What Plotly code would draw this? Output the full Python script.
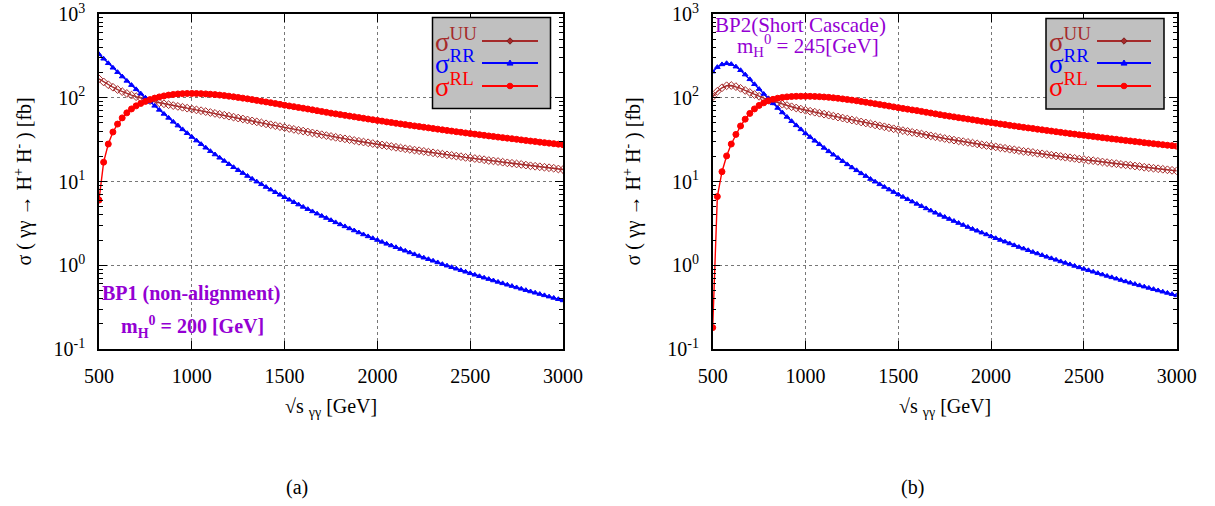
import plotly.graph_objects as go

# ---------------- data ----------------
sqrt_s = [500, 525, 550, 575, 600, 625, 650, 675, 700, 725, 750, 775, 800, 825, 850, 875, 900, 925, 950, 975,
          1000, 1025, 1050, 1075, 1100, 1125, 1150, 1175, 1200, 1225, 1250, 1275, 1300, 1325, 1350, 1375, 1400, 1425, 1450, 1475,
          1500, 1525, 1550, 1575, 1600, 1625, 1650, 1675, 1700, 1725, 1750, 1775, 1800, 1825, 1850, 1875, 1900, 1925, 1950, 1975,
          2000, 2025, 2050, 2075, 2100, 2125, 2150, 2175, 2200, 2225, 2250, 2275, 2300, 2325, 2350, 2375, 2400, 2425, 2450, 2475,
          2500, 2525, 2550, 2575, 2600, 2625, 2650, 2675, 2700, 2725, 2750, 2775, 2800, 2825, 2850, 2875, 2900, 2925, 2950, 2975,
          3000]

bp1_uu = [168, 154.5, 143, 133.5, 125.3, 118.3, 112.5, 107.5, 103, 98.8, 95.3, 92.2, 89.5, 87.0, 84.7, 82.6, 80.6, 78.8, 77.0, 75.1,
          73.3, 71.6, 70.0, 68.3, 66.6, 65.0, 63.4, 61.9, 60.3, 58.7, 57.2, 55.8, 54.3, 52.9, 51.5, 50.1, 48.8, 47.6, 46.4, 45.2,
          44.0, 42.9, 41.9, 40.9, 40.0, 39.0, 38.0, 37.1, 36.2, 35.3, 34.5, 33.7, 33.0, 32.3, 31.6, 30.9, 30.2, 29.6, 29.0, 28.4,
          27.8, 27.3, 26.7, 26.2, 25.6, 25.1, 24.6, 24.2, 23.7, 23.3, 22.9, 22.4, 22.0, 21.6, 21.2, 20.8, 20.5, 20.1, 19.8, 19.4,
          19.1, 18.8, 18.5, 18.2, 17.8, 17.6, 17.3, 17.0, 16.7, 16.5, 16.2, 16.0, 15.7, 15.4, 15.2, 15.0, 14.8, 14.6, 14.4, 14.1,
          13.9]
bp1_rr = [330, 292, 258, 228, 202, 179, 159, 141.5, 126, 112, 100, 89.4, 80.0, 71.6, 64.1, 57.5, 51.6, 46.5, 41.9, 37.7,
          34.0, 30.8, 27.9, 25.3, 23.0, 21.0, 19.2, 17.6, 16.1, 14.8, 13.65, 12.6, 11.63, 10.76, 9.96, 9.25, 8.59, 7.99, 7.44, 6.94,
          6.48, 6.06, 5.66, 5.30, 4.97, 4.67, 4.39, 4.13, 3.88, 3.66, 3.45, 3.25, 3.07, 2.91, 2.75, 2.60, 2.46, 2.33, 2.21, 2.10,
          2.00, 1.90, 1.80, 1.72, 1.64, 1.56, 1.49, 1.42, 1.35, 1.29, 1.23, 1.18, 1.13, 1.08, 1.03, 0.988, 0.947, 0.908, 0.871, 0.835,
          0.801, 0.769, 0.739, 0.710, 0.683, 0.657, 0.632, 0.608, 0.585, 0.564, 0.543, 0.523, 0.504, 0.486, 0.469, 0.453, 0.437, 0.422, 0.407, 0.393,
          0.380]
bp1_rl = [6, 17, 28, 39, 48.5, 57.5, 66, 73.5, 80, 85.5, 90.5, 95, 99, 102.3, 105.2, 107.6, 109.5, 111, 112, 112.5,
          112.6, 112.4, 112.0, 111.2, 110.2, 109.0, 107.6, 106.1, 104.4, 102.6, 100.8, 98.9, 97.0, 95.0, 93.0, 91.0, 89.1, 87.2, 85.3, 83.4,
          81.5, 79.8, 78.2, 76.5, 75.0, 73.4, 71.7, 70.1, 68.5, 67.0, 65.5, 64.2, 62.9, 61.6, 60.4, 59.2, 58.0, 56.9, 55.7, 54.6,
          53.6, 52.6, 51.5, 50.6, 49.6, 48.7, 47.8, 46.9, 46.1, 45.3, 44.5, 43.7, 42.9, 42.2, 41.4, 40.7, 40.0, 39.3, 38.7, 38.0,
          37.4, 36.8, 36.2, 35.6, 35.0, 34.5, 33.9, 33.4, 32.9, 32.4, 31.9, 31.4, 30.9, 30.4, 30.0, 29.5, 29.1, 28.7, 28.3, 27.9,
          27.5]

bp2_uu = [102.6, 119.3, 131.6, 139.1, 140.0, 135.8, 129.5, 122.3, 115.5, 109.3, 104.0, 99.0, 94.8, 90.8, 87.1, 83.8, 80.7, 78.0, 75.4, 73.1,
          70.9, 69.0, 67.2, 65.4, 63.7, 62.0, 60.4, 58.8, 57.2, 55.7, 54.2, 52.8, 51.4, 50.0, 48.7, 47.4, 46.1, 45.0, 43.8, 42.6,
          41.5, 40.5, 39.6, 38.6, 37.8, 36.9, 35.9, 35.1, 34.2, 33.4, 32.6, 31.9, 31.2, 30.5, 29.9, 29.3, 28.7, 28.1, 27.4, 26.9,
          26.4, 25.9, 25.3, 24.9, 24.3, 23.9, 23.4, 22.9, 22.6, 22.2, 21.7, 21.4, 21.0, 20.6, 20.2, 19.9, 19.5, 19.2, 18.9, 18.5,
          18.3, 17.9, 17.7, 17.4, 17.1, 16.8, 16.5, 16.3, 16.0, 15.8, 15.6, 15.3, 15.1, 14.8, 14.6, 14.4, 14.2, 14.0, 13.8, 13.6,
          13.4]
bp2_rr = [205, 232, 250, 258, 252, 235, 213, 189, 166, 145, 127, 111, 97.5, 85.7, 75.5, 66.7, 59.0, 52.5, 46.8, 41.9,
          37.5, 33.9, 30.6, 27.8, 25.2, 22.9, 20.9, 19.1, 17.5, 16.0, 14.7, 13.6, 12.5, 11.6, 10.7, 9.94, 9.24, 8.60, 8.01, 7.48,
          6.99, 6.55, 6.13, 5.75, 5.40, 5.08, 4.77, 4.49, 4.23, 3.99, 3.77, 3.56, 3.37, 3.19, 3.02, 2.86, 2.71, 2.58, 2.45, 2.33,
          2.21, 2.10, 2.00, 1.91, 1.82, 1.73, 1.65, 1.58, 1.51, 1.44, 1.38, 1.32, 1.26, 1.21, 1.16, 1.11, 1.066, 1.023, 0.981, 0.942,
          0.905, 0.870, 0.836, 0.804, 0.774, 0.745, 0.717, 0.691, 0.665, 0.641, 0.618, 0.596, 0.575, 0.555, 0.536, 0.518, 0.500, 0.483, 0.467, 0.452,
          0.437]
bp2_rl = [0.18, 6.6, 13.1, 20.2, 28.0, 36.5, 46.0, 55.5, 65.0, 73.5, 81.0, 87.0, 92.0, 95.8, 98.7, 100.9, 102.4, 103.4, 104.0, 104.2,
          104.2, 104.0, 103.7, 103.0, 102.1, 101.1, 99.8, 98.5, 96.9, 95.3, 93.7, 92.0, 90.2, 88.4, 86.6, 84.8, 83.0, 81.3, 79.6, 77.8,
          76.1, 74.5, 73.1, 71.5, 70.2, 68.7, 67.1, 65.7, 64.2, 62.8, 61.4, 60.3, 59.1, 57.9, 56.8, 55.7, 54.6, 53.6, 52.4, 51.4,
          50.5, 49.6, 48.6, 47.8, 46.8, 46.0, 45.2, 44.3, 43.6, 42.9, 42.1, 41.4, 40.7, 40.0, 39.3, 38.6, 38.0, 37.3, 36.8, 36.1,
          35.6, 35.0, 34.5, 33.9, 33.4, 32.9, 32.3, 31.9, 31.4, 30.9, 30.5, 30.0, 29.6, 29.1, 28.7, 28.3, 27.9, 27.5, 27.1, 26.8,
          26.4]

x_tick_vals = [500, 1000, 1500, 2000, 2500, 3000]
y_tick_vals = [0.1, 1, 10, 100, 1000]
y_tick_text = ["10<sup>-1</sup>", "10<sup>0</sup>", "10<sup>1</sup>", "10<sup>2</sup>", "10<sup>3</sup>"]
series_labels = ["σ<sup>UU</sup>", "σ<sup>RR</sup>", "σ<sup>RL</sup>"]
captions = ["(a)", "(b)"]

# ---------------- styling / layout helpers ----------------
W, H = 1215, 506
FONT = "Liberation Serif"
BROWN, BLUE, RED, VIOLET = "#a52a2a", "#0000ff", "#ff0000", "#9400d3"
colors = [BROWN, BLUE, RED]
symbols = ["diamond-open", "triangle-up", "circle"]
msizes = [6, 5, 6]


def px(x):
    return x / W


def py(y):
    return 1 - y / H


panels = [
    dict(x0=99, x1=563, data=[bp1_uu, bp1_rr, bp1_rl], ytitle_x=23,
         leg=(432.5, 550.5, 17.5, 108.5, 482, 538, 510, 433), cap_x=297),
    dict(x0=712.7, x1=1176.7, data=[bp2_uu, bp2_rr, bp2_rl], ytitle_x=632,
         leg=(1046, 1164, 18.5, 109, 1097, 1151, 1124, 1047), cap_x=912),
]
TOP, BOT = 14, 349

fig = go.Figure()
layout = dict(width=W, height=H, margin=dict(l=0, r=0, t=0, b=0, autoexpand=False),
              paper_bgcolor="white", plot_bgcolor="white", showlegend=False)
annotations = []
shapes = []


def ann(x, y, text, size, color="black", xanchor="center", yanchor="middle", angle=0):
    annotations.append(dict(x=px(x), y=py(y), xref="paper", yref="paper", text=text, showarrow=False,
                            xanchor=xanchor, yanchor=yanchor, textangle=angle,
                            font=dict(family=FONT, size=size, color=color)))


for i, p in enumerate(panels):
    ax = "" if i == 0 else str(i + 1)
    for k in range(3):
        fig.add_trace(go.Scatter(
            x=sqrt_s, y=p["data"][k], mode="lines+markers",
            line=dict(color=colors[k], width=1.4),
            marker=dict(symbol=symbols[k], size=msizes[k], color=colors[k], line=dict(color=colors[k], width=1)),
            xaxis="x" + ax, yaxis="y" + ax, name=series_labels[k]))
    layout["xaxis" + ax] = dict(
        domain=[px(p["x0"]), px(p["x1"])], anchor="y" + ax, range=[500, 3000], automargin=False,
        tickmode="array", tickvals=x_tick_vals, ticktext=[str(v) for v in x_tick_vals],
        ticks="inside", ticklen=8, tickwidth=1, tickcolor="black", mirror="allticks",
        showline=True, linecolor="black", linewidth=1.5,
        showgrid=True, gridcolor="#777777", griddash="dot", gridwidth=1, zeroline=False,
        tickfont=dict(family=FONT, size=20, color="black"), ticklabelstandoff=8)
    layout["yaxis" + ax] = dict(
        domain=[py(BOT), py(TOP)], anchor="x" + ax, type="log", range=[-1, 3], automargin=False,
        tickmode="array", tickvals=y_tick_vals, ticktext=y_tick_text,
        ticks="inside", ticklen=8, tickwidth=1, tickcolor="black", mirror="allticks",
        showline=True, linecolor="black", linewidth=1.5,
        showgrid=True, gridcolor="#777777", griddash="dot", gridwidth=1, zeroline=False,
        minor=dict(ticks="inside", ticklen=4, tickcolor="black", dtick="D1", showgrid=False),
        tickfont=dict(family=FONT, size=20, color="black"), ticklabelstandoff=8)

    cx = (p["x0"] + p["x1"]) / 2
    ann(p["ytitle_x"], (TOP + BOT) / 2, "σ ( γγ → H<sup>+</sup> H<sup>-</sup> ) [fb]", 20, angle=-90)
    ann(cx, 407, "√s <sub>γγ</sub> [GeV]", 20)
    ann(p["cap_x"], 487, captions[i], 20)

    # legend box
    bx0, bx1, by0, by1, lx0, lx1, mx, tx = p["leg"]
    shapes.append(dict(type="rect", xref="paper", yref="paper", x0=px(bx0), x1=px(bx1), y0=py(by1), y1=py(by0),
                       fillcolor="#c0c0c0", line=dict(color="black", width=1.5), layer="above"))
    for k, ly in enumerate([41, 63, 86]):
        shapes.append(dict(type="line", xref="paper", yref="paper", x0=px(lx0), x1=px(lx1), y0=py(ly), y1=py(ly),
                           line=dict(color=colors[k], width=2), layer="above"))
        if k == 0:
            s = 3.2
            path = f"M {px(mx)},{py(ly - s)} L {px(mx + s)},{py(ly)} L {px(mx)},{py(ly + s)} L {px(mx - s)},{py(ly)} Z"
            shapes.append(dict(type="path", xref="paper", yref="paper", path=path, fillcolor=BROWN,
                               line=dict(color="#7a1f1f", width=1), layer="above"))
        elif k == 1:
            s = 3.0
            path = f"M {px(mx)},{py(ly - s)} L {px(mx + s)},{py(ly + s * 0.7)} L {px(mx - s)},{py(ly + s * 0.7)} Z"
            shapes.append(dict(type="path", xref="paper", yref="paper", path=path, fillcolor=BLUE,
                               line=dict(color=BLUE, width=1), layer="above"))
        else:
            r = 2.8
            shapes.append(dict(type="circle", xref="paper", yref="paper", x0=px(mx - r), x1=px(mx + r),
                               y0=py(ly + r), y1=py(ly - r), fillcolor=RED, line=dict(color=RED, width=1), layer="above"))
        ann(tx, ly - 1, series_labels[k], 27, color=colors[k], xanchor="left")

# benchmark annotations
ann(191, 293, "<b>BP1 (non-alignment)</b>", 20, color=VIOLET)
ann(192, 327, "<b>m<sub>H</sub><sup>0</sup> = 200 [GeV]</b>", 20, color=VIOLET)
ann(801, 25, "BP2(Short Cascade)", 21, color=VIOLET)
ann(808, 45, "m<sub>H</sub><sup>0</sup> = 245[GeV]", 21, color=VIOLET)

layout["annotations"] = annotations
layout["shapes"] = shapes
fig.update_layout(**layout)
fig.write_html("out.html", config={"displayModeBar": False},
               post_script="document.body.style.margin='0px';document.body.style.overflow='hidden';")
